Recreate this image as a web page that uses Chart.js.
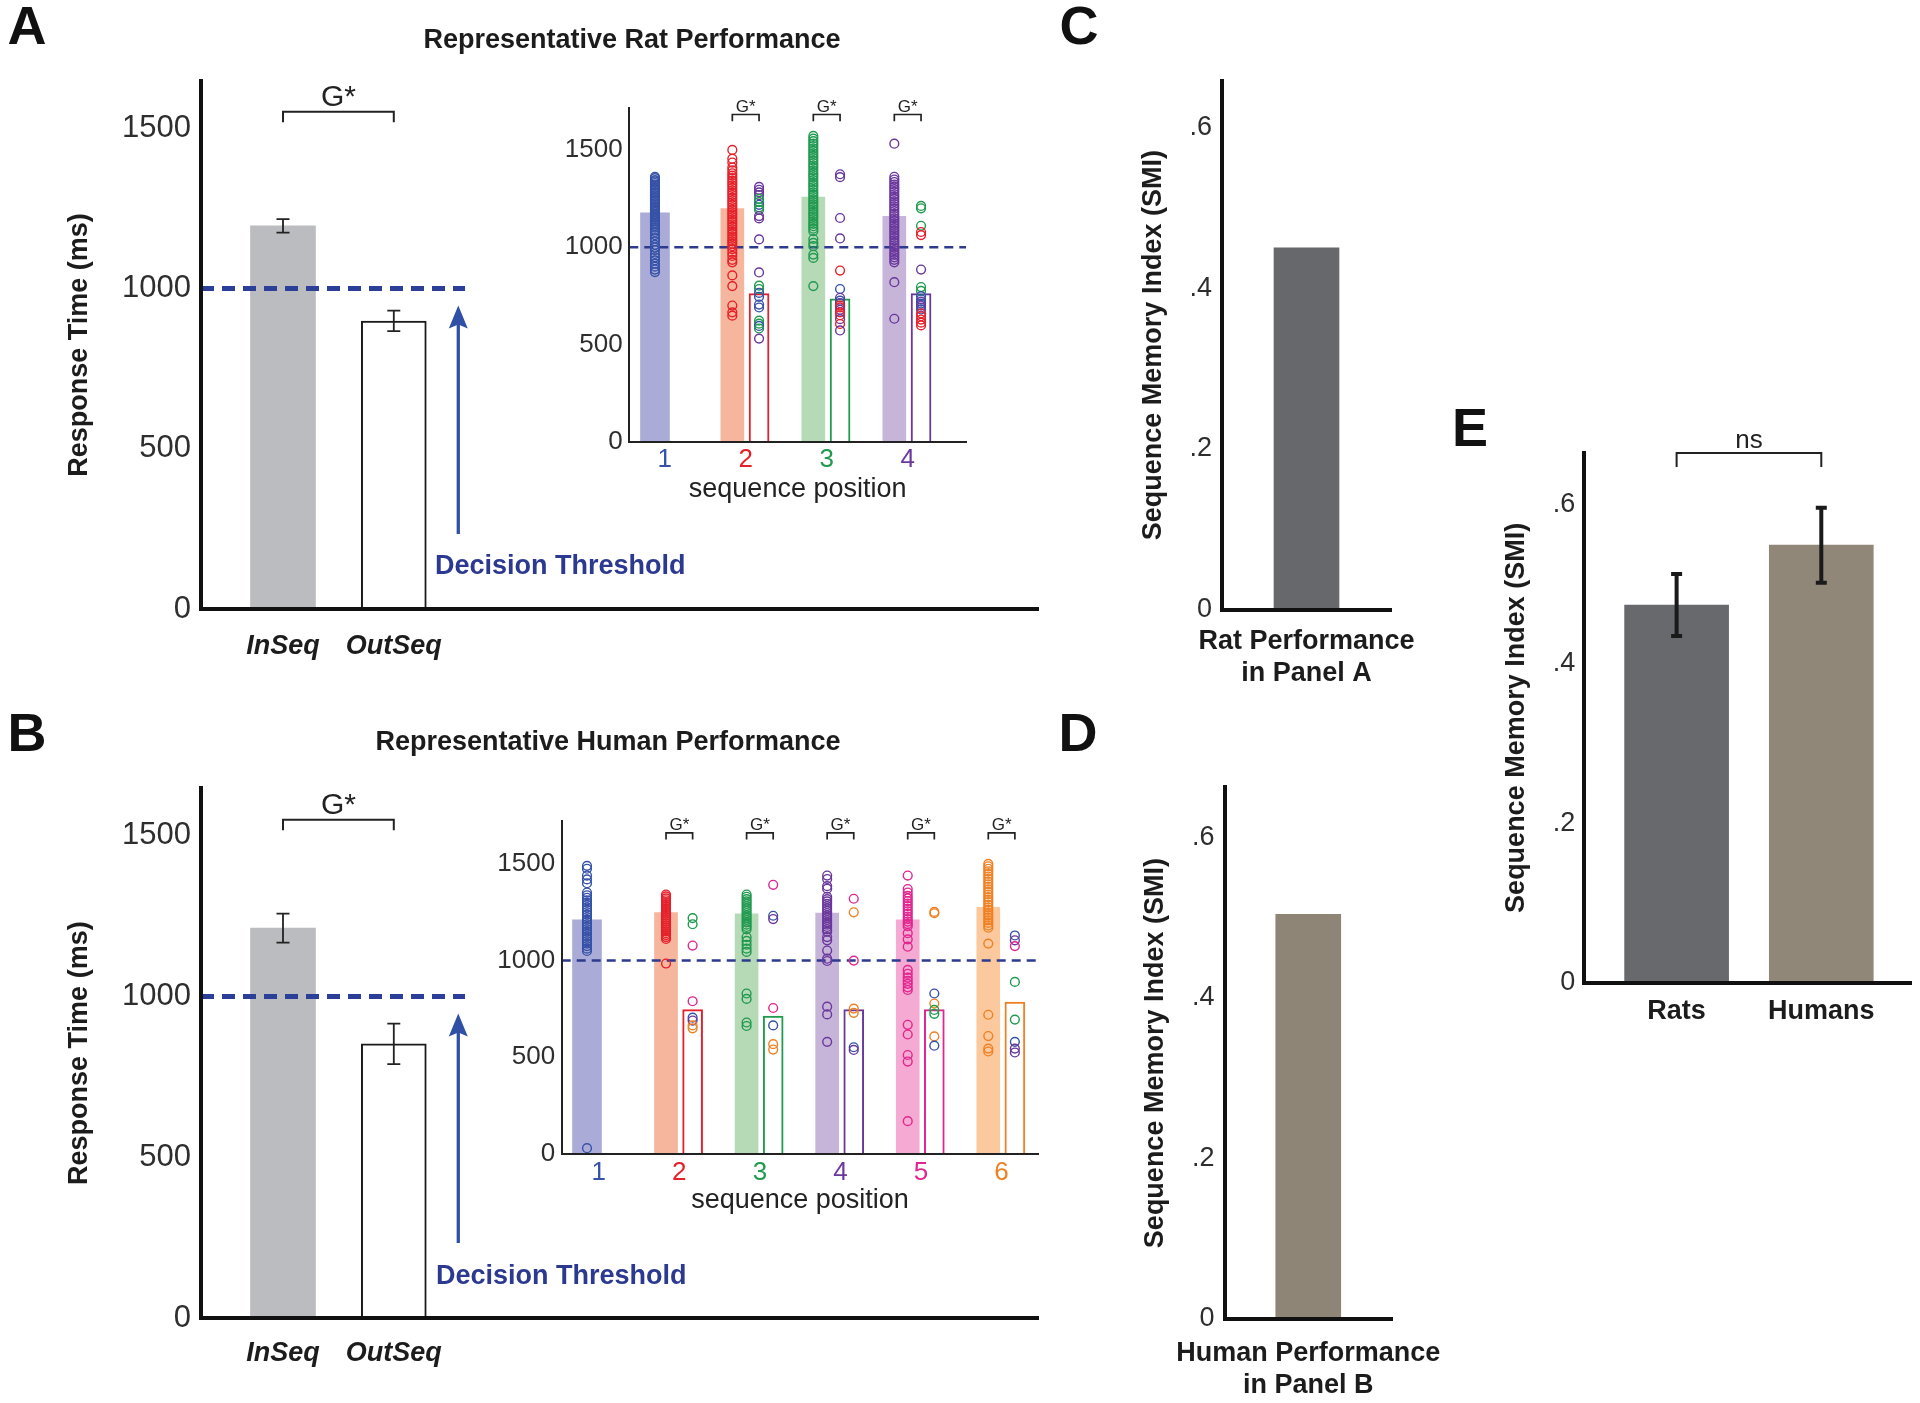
<!DOCTYPE html>
<html><head><meta charset="utf-8">
<script src="https://cdn.jsdelivr.net/npm/chart.js"></script>
<style>
html,body{margin:0;padding:0;background:#fff;}
#fig{position:relative;width:1920px;height:1403px;overflow:hidden;background:#fff;font-family:"Liberation Sans",Arial,Helvetica,sans-serif;}
canvas{position:absolute;}
.t{position:absolute;line-height:1;white-space:nowrap;color:#1c1c1c;font-weight:bold;z-index:20;}
.c{transform:translate(-50%,-50%);}
.letter{font-size:54px;color:#111;}
.ttl{font-size:27px;}
.dt{font-size:27px;color:#2b3990;transform:translateY(-50%);}
</style></head><body><div id="fig">
<div class="t c letter" style="left:27px;top:25px">A</div>
<div class="t c letter" style="left:27px;top:732px">B</div>
<div class="t c letter" style="left:1079px;top:25px">C</div>
<div class="t c letter" style="left:1078px;top:732px">D</div>
<div class="t c letter" style="left:1470px;top:427px">E</div>
<div class="t c ttl" style="left:632px;top:39px">Representative Rat Performance</div>
<div class="t c ttl" style="left:608px;top:741px">Representative Human Performance</div>
<div class="t dt" style="left:435px;top:565px">Decision Threshold</div>
<div class="t dt" style="left:436px;top:1275px">Decision Threshold</div>
</div>
<script>
// ================= DATA =================
// Panels A/B main: mean response time (ms) and SEM
const seqCategories = ['InSeq', 'OutSeq'];
const ratRT = [1196, 899];
const ratRTsem = [21, 32];
const humanRT = [1213, 853];
const humanRTsem = [45, 63];
const rtTicks = [0, 500, 1000, 1500];
const rtTickLabels = ['0', '500', '1000', '1500'];
const decisionThreshold = 1000;

// Panel A inset (rat, 4 items)
const ratPositions = [1, 2, 3, 4];
const ratPositionLabels = ['1', '2', '3', '4'];
const ratInSeqMean = [1176, 1199, 1258, 1159];
const ratOutSeqMean = [null, 761, 735, 761];
const ratInSeqPos1 = [1362,1355,1345,1338,1330,1322,1315,1305,1298,1290,1282,1275,1266,1258,1250,1242,1235,1226,1218,1210,1203,1195,1188,1180,1172,1165,1157,1150,1142,1135,1126,1118,1110,1100,1090,1078,1062,1045,1030,1012,998,985,965,948,932,915,900,885,872];
const ratInSeqPos2 = [1500,1455,1435,1410,1395,1380,1368,1355,1342,1330,1318,1305,1292,1280,1268,1255,1242,1230,1218,1205,1192,1180,1168,1155,1142,1130,1118,1105,1092,1080,1068,1055,1042,1030,1018,1005,990,972,955,935,922,855,800,700,665,648];
const ratInSeqPos3 = [1572,1558,1545,1532,1520,1507,1495,1482,1470,1458,1445,1432,1420,1408,1395,1382,1370,1358,1345,1332,1320,1308,1295,1282,1270,1258,1245,1232,1220,1208,1195,1182,1170,1158,1145,1132,1120,1108,1095,1082,1042,1022,1005,962,945,800];
const ratInSeqPos4 = [1532,1362,1348,1335,1322,1310,1298,1285,1272,1260,1248,1235,1222,1210,1198,1185,1172,1160,1148,1135,1122,1110,1098,1085,1072,1060,1048,1035,1022,1010,998,985,972,960,948,935,922,820,632];
const ratOutSeqPos2 = [1310,1295,1282,1268,1248,1232,1218,1205,1192,1160,1148,1040,870,802,785,765,745,705,690,622,607,595,582,530];
const ratOutSeqItem2 = [4,4,4,4,3,3,1,3,3,4,4,4,4,3,3,1,1,1,1,3,3,1,3,4];
const ratOutSeqPos3 = [1375,1360,1150,1045,880,785,740,725,712,700,690,678,665,650,630,605,572];
const ratOutSeqItem3 = [4,4,4,4,2,1,4,1,4,2,2,4,2,2,4,2,4];
const ratOutSeqPos4 = [1212,1200,1110,1078,1062,885,795,775,748,732,720,710,700,690,680,660,645,628,612,598];
const ratOutSeqItem4 = [3,3,3,2,2,4,3,3,1,1,4,1,4,4,1,2,2,2,2,2];

// Panel B inset (human, 6 items)
const humanPositions = [1, 2, 3, 4, 5, 6];
const humanPositionLabels = ['1', '2', '3', '4', '5', '6'];
const humanInSeqMean = [1211, 1249, 1242, 1246, 1211, 1275];
const humanOutSeqMean = [null, 747, 713, 747, 747, 785];
const humanInSeqPos1 = [1490,1475,1440,1420,1400,1352,1338,1325,1312,1300,1288,1275,1262,1250,1238,1225,1212,1200,1188,1175,1162,1150,1138,1125,1112,1100,1088,1075,1062,1050,30];
const humanInSeqPos2 = [1342,1332,1322,1312,1302,1292,1282,1272,1262,1252,1242,1232,1222,1212,1202,1192,1182,1172,1162,1152,1142,1132,1122,1112,985];
const humanInSeqPos3 = [1342,1330,1318,1306,1294,1282,1270,1258,1246,1234,1222,1210,1198,1186,1174,1162,1122,1102,1082,1062,1045,830,802,680,662];
const humanInSeqPos4 = [1440,1422,1385,1372,1330,1318,1306,1294,1282,1270,1258,1246,1234,1222,1210,1198,1186,1174,1162,1150,1122,1105,1052,1010,998,762,722,580];
const humanInSeqPos5 = [1440,1370,1352,1335,1322,1308,1295,1282,1268,1255,1242,1228,1215,1202,1190,1178,1142,1110,1072,952,932,912,895,880,862,848,668,618,512,478,170];
const humanInSeqPos6 = [1500,1488,1475,1462,1448,1435,1422,1408,1395,1382,1368,1355,1342,1328,1315,1302,1288,1275,1262,1248,1235,1222,1208,1195,1182,1170,1088,720,610,545,530];
const humanOutSeqPos2 = [1220,1188,1078,790,705,690,665,650];
const humanOutSeqItem2 = [3,3,5,5,1,4,6,6];
const humanOutSeqPos3 = [1392,1232,1215,755,665,568,540];
const humanOutSeqItem3 = [5,1,4,5,1,6,6];
const humanOutSeqPos4 = [1320,1250,1000,752,730,552,538];
const humanOutSeqItem4 = [5,6,5,6,6,1,4];
const humanOutSeqPos5 = [1252,1245,830,778,745,725,608,560];
const humanOutSeqItem5 = [6,6,1,6,3,3,6,1];
const humanOutSeqPos6 = [1130,1105,1075,890,695,580,545,525];
const humanOutSeqItem6 = [1,4,5,3,3,1,4,4];

// Panels C, D, E: Sequence Memory Index
const smiTicks = [0, 0.2, 0.4, 0.6];
const smiTickLabels = ['0', '.2', '.4', '.6'];
const smiPanelC = [0.450];
const smiPanelCLabel = ['Rat Performance', 'in Panel A'];
const smiPanelD = [0.504];
const smiPanelDLabel = ['Human Performance', 'in Panel B'];
const smiGroups = ['Rats', 'Humans'];
const smiGroupMean = [0.474, 0.549];
const smiGroupSem = [0.039, 0.047];

// ================= STYLE =================
const FONT = '"Liberation Sans", Arial, Helvetica, sans-serif';
const itemColors = {1:'#3552a8', 2:'#e5202b', 3:'#1f9a4f', 4:'#6a379c', 5:'#e0268f', 6:'#ef8023'};
const itemFill = {1:'#aaacd7', 2:'#f6b59d', 3:'#b6d9b6', 4:'#c7b5d9', 5:'#f4aad2', 6:'#fbc99d'};

const fig = document.getElementById('fig');
function addCanvas(r, z) {
  const c = document.createElement('canvas');
  c.width = Math.round(r.r - r.l); c.height = Math.round(r.b - r.t);
  c.style.left = r.l + 'px'; c.style.top = r.t + 'px';
  c.style.width = c.width + 'px'; c.style.height = c.height + 'px';
  c.style.zIndex = z || 1;
  fig.appendChild(c);
  return c;
}
function frame(cv, ar) {
  return {pad: {left: 0, top: ar.t - cv.t, right: cv.r - ar.r, bottom: 0}, yW: ar.l - cv.l, xH: cv.b - ar.b};
}
function baseOptions(pad) {
  return {responsive: false, maintainAspectRatio: false, animation: false, devicePixelRatio: 1, events: [],
    layout: {padding: pad, autoPadding: false}, plugins: {legend: {display: false}, tooltip: {enabled: false}}};
}
function yAxisCfg(o) {
  const cfg = {
    type: 'linear', position: 'left', min: o.min, max: o.max,
    grid: {display: false, drawTicks: false, tickLength: 0},
    border: {display: true, width: o.bw, color: o.bc, z: 1},
    afterBuildTicks: s => { s.ticks = o.ticks.map(v => ({value: v})); },
    afterFit: s => { s.width = o.width; s.paddingTop = 0; s.paddingBottom = 0; s.paddingLeft = 0; s.paddingRight = 0; },
    ticks: {padding: o.pad, color: '#2e2e2e', font: {family: FONT, size: o.size, lineHeight: 1}, callback: (v, i) => o.labels[i]},
    title: {display: false}
  };
  if (o.title) cfg.title = {display: true, text: o.title, color: '#1c1c1c',
    font: {family: FONT, size: 27, weight: 'bold', lineHeight: 1}, padding: {top: o.titleX - o.canvasL - 13.5, bottom: 0}};
  return cfg;
}
function xAxisBase(min, max, height, bw, bc) {
  return {type: 'linear', min, max, offset: false,
    grid: {display: false, drawTicks: false, tickLength: 0},
    border: {display: true, width: bw, color: bc, z: 1},
    afterFit: s => { s.height = height; s.paddingLeft = 0; s.paddingRight = 0; s.paddingTop = 0; s.paddingBottom = 0; }};
}
function drawBracket(ctx, x1, x2, y, leg, lw, color, text, font, gap) {
  ctx.save();
  ctx.strokeStyle = color; ctx.lineWidth = lw;
  ctx.beginPath(); ctx.moveTo(x1, y + leg); ctx.lineTo(x1, y); ctx.lineTo(x2, y); ctx.lineTo(x2, y + leg); ctx.stroke();
  ctx.fillStyle = color; ctx.font = font; ctx.textAlign = 'center'; ctx.textBaseline = 'alphabetic';
  ctx.fillText(text, (x1 + x2) / 2, y - gap);
  ctx.restore();
}
function drawErrorBars(ctx, chart, dsIndex, means, sems, cap, lw, color) {
  const y = chart.scales.y;
  const meta = chart.getDatasetMeta(dsIndex);
  ctx.save(); ctx.strokeStyle = color; ctx.lineWidth = lw; ctx.lineCap = 'butt';
  meta.data.forEach((el, i) => {
    const yt = y.getPixelForValue(means[i] + sems[i]);
    const yb = y.getPixelForValue(means[i] - sems[i]);
    ctx.beginPath();
    ctx.moveTo(el.x, yt); ctx.lineTo(el.x, yb);
    ctx.moveTo(el.x - cap / 2, yt); ctx.lineTo(el.x + cap / 2, yt);
    ctx.moveTo(el.x - cap / 2, yb); ctx.lineTo(el.x + cap / 2, yb);
    ctx.stroke();
  });
  ctx.restore();
}

// ================= MAIN PANELS (A, B) =================
function mainPanel(cv, ar, means, sems, o) {
  const f = frame(cv, ar);
  const L = {xmin: 0.26, xmax: 7.814, thrEnd: 2.643, arrowX: 2.582};
  new Chart(addCanvas(cv, 1), {
    type: 'bar',
    data: {datasets: [
      {type: 'line', data: [{x: L.xmin, y: decisionThreshold}, {x: L.thrEnd, y: decisionThreshold}],
       borderColor: '#2b3e98', borderWidth: 5, borderDash: [13, 8], pointRadius: 0, fill: false, tension: 0},
      {type: 'bar', data: seqCategories.map((c, i) => ({x: i + 1, y: means[i]})),
       backgroundColor: ['#bbbcbf', '#ffffff'], borderColor: ['rgba(0,0,0,0)', '#1a1a1a'], borderWidth: [0, 2],
       barThickness: 65, grouped: false}
    ]},
    options: Object.assign(baseOptions(f.pad), {scales: {
      x: Object.assign(xAxisBase(L.xmin, L.xmax, f.xH, 4, '#111'), {
        afterBuildTicks: s => { s.ticks = seqCategories.map((c, i) => ({value: i + 1})); },
        ticks: {autoSkip: false, maxRotation: 0, minRotation: 0, padding: o.labelY - ar.b - 13.5, color: '#1c1c1c',
          font: {family: FONT, size: 27, weight: 'bold', style: 'italic', lineHeight: 1}, callback: (v, i) => seqCategories[i]}}),
      y: yAxisCfg({min: 0, max: 1648, ticks: rtTicks, labels: rtTickLabels, size: 31, pad: 10, width: f.yW, bw: 4, bc: '#111',
        title: 'Response Time (ms)', titleX: 80, canvasL: cv.l})
    }}),
    plugins: [{id: 'mainAnnot', afterDatasetsDraw(chart) {
      const ctx = chart.ctx, x = chart.scales.x, y = chart.scales.y;
      drawErrorBars(ctx, chart, 1, means, sems, 13, 1.8, '#222');
      drawBracket(ctx, x.getPixelForValue(1), x.getPixelForValue(2), y.getPixelForValue(o.bracket), 10.5, 2, '#222', 'G*', '30px ' + FONT, 6);
      const ax = x.getPixelForValue(L.arrowX);
      const tip = y.getPixelForValue(decisionThreshold) + 17;
      const bot = chart.chartArea.bottom - 75;
      ctx.save(); ctx.strokeStyle = '#3050a6'; ctx.fillStyle = '#3050a6'; ctx.lineWidth = 3.3;
      ctx.beginPath(); ctx.moveTo(ax, bot); ctx.lineTo(ax, tip + 16); ctx.stroke();
      ctx.beginPath(); ctx.moveTo(ax, tip); ctx.lineTo(ax - 9.5, tip + 23); ctx.lineTo(ax, tip + 19); ctx.lineTo(ax + 9.5, tip + 23); ctx.closePath(); ctx.fill();
      ctx.restore();
    }}]
  });
}

// ================= INSETS =================
function insetPanel(cv, ar, o) {
  const f = frame(cv, ar);
  const D = 0.165;
  const pt = {pointRadius: 4.4, pointBorderWidth: 1.4, pointBackgroundColor: 'rgba(0,0,0,0)', pointHoverRadius: 4.4};
  const ds = [];
  o.positions.forEach((p, i) => {
    const xIn = i === 0 ? p + o.firstShift : p - D;
    ds.push(Object.assign({type: 'scatter', data: o.inTrials[i].map(v => ({x: xIn, y: v})),
      pointBorderColor: itemColors[p], borderColor: itemColors[p]}, pt));
    if (o.outTrials[i] && o.outTrials[i].length) {
      ds.push(Object.assign({type: 'scatter', data: o.outTrials[i].map(v => ({x: p + D, y: v})),
        pointBorderColor: o.outItems[i].map(it => itemColors[it]), borderColor: itemColors[p]}, pt));
    }
  });
  ds.push({type: 'line', data: [{x: o.xmin, y: decisionThreshold}, {x: o.xmax, y: decisionThreshold}],
    borderColor: '#2d3a8e', borderWidth: 2.5, borderDash: [9, 6], pointRadius: 0, fill: false, tension: 0});
  const rest = o.positions.slice(1);
  ds.push({type: 'bar', data: [{x: o.positions[0] + o.firstShift, y: o.inMean[0]}], backgroundColor: itemFill[o.positions[0]],
    barThickness: 29, grouped: false});
  ds.push({type: 'bar', data: rest.map((p, j) => ({x: p - D, y: o.inMean[j + 1]})), backgroundColor: rest.map(p => itemFill[p]),
    barThickness: 23, grouped: false});
  ds.push({type: 'bar', data: rest.map((p, j) => ({x: p + D, y: o.outMean[j + 1]})), backgroundColor: '#ffffff',
    borderColor: rest.map(p => itemColors[p]), borderWidth: 2, barThickness: 20, grouped: false});
  new Chart(addCanvas(cv, 5), {
    type: 'bar',
    data: {datasets: ds},
    options: Object.assign(baseOptions(f.pad), {scales: {
      x: Object.assign(xAxisBase(o.xmin, o.xmax, f.xH, 2, '#222'), {
        afterBuildTicks: s => { s.ticks = o.positions.map(v => ({value: v})); },
        ticks: {autoSkip: false, maxRotation: 0, minRotation: 0, padding: o.labelY - ar.b - 13,
          color: c => itemColors[o.positions[c.index]], font: {family: FONT, size: 26, lineHeight: 1},
          callback: (v, i) => o.labels[i]},
        title: {display: true, text: 'sequence position', color: '#222', font: {family: FONT, size: 27, lineHeight: 1},
          padding: {top: 0, bottom: cv.b - o.titleY - 13.5}}}),
      y: yAxisCfg({min: 0, max: o.ymax, ticks: rtTicks, labels: rtTickLabels, size: 26, pad: 6.6, width: f.yW, bw: 2, bc: '#222'})
    }}),
    plugins: [{id: 'insetAnnot', afterDatasetsDraw(chart) {
      const ctx = chart.ctx, x = chart.scales.x, y = chart.scales.y;
      rest.forEach(p => drawBracket(ctx, x.getPixelForValue(p - D), x.getPixelForValue(p + D), y.getPixelForValue(o.bracket),
        6.8, 1.7, '#222', 'G*', '17px ' + FONT, 2.5));
    }}]
  });
}

// ================= SMI PANELS (C, D) =================
function smiSingle(cv, ar, values, labelLines, color, o) {
  const f = frame(cv, ar);
  new Chart(addCanvas(cv, 1), {
    type: 'bar',
    data: {datasets: [{type: 'bar', data: values.map(v => ({x: 1, y: v})), backgroundColor: color, barThickness: 65, grouped: false}]},
    options: Object.assign(baseOptions(f.pad), {scales: {
      x: Object.assign(xAxisBase(0, 2, f.xH, 4, '#111'), {
        afterBuildTicks: s => { s.ticks = [{value: 1}]; },
        ticks: {autoSkip: false, maxRotation: 0, minRotation: 0, padding: o.labelY - ar.b - o.lh / 2, color: '#1c1c1c',
          font: {family: FONT, size: 27, weight: 'bold', lineHeight: o.lh / 27}, callback: () => labelLines}}),
      y: yAxisCfg({min: 0, max: o.ymax, ticks: smiTicks, labels: smiTickLabels, size: 27, pad: 10, width: f.yW, bw: 4, bc: '#111',
        title: 'Sequence Memory Index (SMI)', titleX: o.titleX, canvasL: cv.l})
    }})
  });
}

// ================= BUILD =================
mainPanel({l: 0, t: 0, r: 1050, b: 700}, {l: 201, t: 81, r: 1038, b: 609}, ratRT, ratRTsem, {labelY: 646.5, bracket: 1552});
mainPanel({l: 0, t: 700, r: 1050, b: 1403}, {l: 201, t: 788.3, r: 1038, b: 1318}, humanRT, humanRTsem, {labelY: 1354, bracket: 1550});

insetPanel({l: 540, t: 60, r: 980, b: 520}, {l: 629.3, t: 108.3, r: 966, b: 441.7}, {
  positions: ratPositions, labels: ratPositionLabels, inMean: ratInSeqMean, outMean: ratOutSeqMean,
  inTrials: [ratInSeqPos1, ratInSeqPos2, ratInSeqPos3, ratInSeqPos4],
  outTrials: [[], ratOutSeqPos2, ratOutSeqPos3, ratOutSeqPos4],
  outItems: [[], ratOutSeqItem2, ratOutSeqItem3, ratOutSeqItem4],
  xmin: 0.563, xmax: 4.72, ymax: 1714, firstShift: -0.12, labelY: 460, titleY: 490, bracket: 1682});

insetPanel({l: 480, t: 770, r: 1050, b: 1240}, {l: 561.7, t: 821, r: 1038.4, b: 1154}, {
  positions: humanPositions, labels: humanPositionLabels, inMean: humanInSeqMean, outMean: humanOutSeqMean,
  inTrials: [humanInSeqPos1, humanInSeqPos2, humanInSeqPos3, humanInSeqPos4, humanInSeqPos5, humanInSeqPos6],
  outTrials: [[], humanOutSeqPos2, humanOutSeqPos3, humanOutSeqPos4, humanOutSeqPos5, humanOutSeqPos6],
  outItems: [[], humanOutSeqItem2, humanOutSeqItem3, humanOutSeqItem4, humanOutSeqItem5, humanOutSeqItem6],
  xmin: 0.54, xmax: 6.457, ymax: 1722, firstShift: -0.146, labelY: 1173, titleY: 1201, bracket: 1661});

smiSingle({l: 1110, t: 40, r: 1460, b: 700}, {l: 1222, t: 80.8, r: 1391, b: 609.5}, smiPanelC, smiPanelCLabel, '#67686b',
  {labelY: 641.6, lh: 31.9, ymax: 0.658, titleX: 1153.5});
smiSingle({l: 1110, t: 750, r: 1460, b: 1403}, {l: 1224.5, t: 787.4, r: 1392, b: 1318.8}, smiPanelD, smiPanelDLabel, '#8f8577',
  {labelY: 1354, lh: 32, ymax: 0.662, titleX: 1156});

// Panel E
(function () {
  const cv = {l: 1480, t: 400, r: 1920, b: 1060}, ar = {l: 1584.3, t: 452.7, r: 1911, b: 983};
  const f = frame(cv, ar);
  const xmin = 0.362, xmax = 2.62;
  new Chart(addCanvas(cv, 1), {
    type: 'bar',
    data: {datasets: [{type: 'bar', data: smiGroups.map((g, i) => ({x: i + 1, y: smiGroupMean[i]})),
      backgroundColor: ['#68696c', '#918779'], barThickness: 104, grouped: false}]},
    options: Object.assign(baseOptions(f.pad), {scales: {
      x: Object.assign(xAxisBase(xmin, xmax, f.xH, 4, '#111'), {
        afterBuildTicks: s => { s.ticks = smiGroups.map((g, i) => ({value: i + 1})); },
        ticks: {autoSkip: false, maxRotation: 0, minRotation: 0, padding: 1011.7 - ar.b - 13.5, color: '#1c1c1c',
          font: {family: FONT, size: 27, weight: 'bold', lineHeight: 1}, callback: (v, i) => smiGroups[i]}}),
      y: yAxisCfg({min: 0, max: 0.665, ticks: smiTicks, labels: smiTickLabels, size: 27, pad: 9, width: f.yW, bw: 4, bc: '#111',
        title: 'Sequence Memory Index (SMI)', titleX: 1516.7, canvasL: cv.l})
    }}),
    plugins: [{id: 'eAnnot', afterDatasetsDraw(chart) {
      const ctx = chart.ctx, x = chart.scales.x, y = chart.scales.y;
      drawErrorBars(ctx, chart, 0, smiGroupMean, smiGroupSem, 11, 4, '#1a1a1a');
      drawBracket(ctx, x.getPixelForValue(1), x.getPixelForValue(2), y.getPixelForValue(0.6647), 14, 2, '#222', 'ns', '26px ' + FONT, 5);
    }}]
  });
})();
</script>
</body></html>
